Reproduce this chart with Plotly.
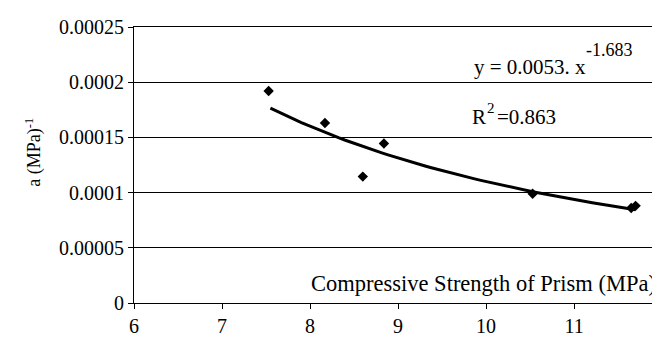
import numpy as np
import plotly.graph_objects as go

strength = [7.53, 8.17, 8.60, 8.84, 10.53, 11.65, 11.70]
a_vals = [0.000192, 0.000163, 0.0001145, 0.0001445, 0.000099, 0.0000860, 0.0000880]
fit_a = 0.0053
fit_b = -1.683
fit_range = [7.55, 11.7]
y_ticks = [0, 0.00005, 0.0001, 0.00015, 0.0002, 0.00025]
y_ticktext = ["0", "0.00005", "0.0001", "0.00015", "0.0002", "0.00025"]
x_ticks = [6, 7, 8, 9, 10, 11, 12]

FONT = "Liberation Serif"

xs = np.linspace(fit_range[0], fit_range[1], 60)
ys = fit_a * xs ** fit_b

fig = go.Figure()
fig.add_trace(go.Scatter(x=xs, y=ys, mode="lines",
                         line=dict(color="black", width=3), hoverinfo="skip"))
fig.add_trace(go.Scatter(x=strength, y=a_vals, mode="markers",
                         marker=dict(symbol="diamond", size=8, color="black")))

fig.update_layout(
    width=660, height=338,
    margin=dict(l=126, r=6, t=19, b=43, autoexpand=False),
    paper_bgcolor="white", plot_bgcolor="white",
    showlegend=False,
    font=dict(family=FONT, size=20, color="black"),
    xaxis=dict(range=[6, 12], tickvals=x_ticks, showgrid=False, zeroline=False,
               showline=True, linecolor="black", linewidth=1, mirror=True,
               ticks="outside", ticklen=5, tickcolor="black", automargin=False,
               tickfont=dict(family=FONT, size=20)),
    yaxis=dict(range=[0, 0.00025], tickvals=y_ticks, ticktext=y_ticktext,
               showgrid=True, gridcolor="black", gridwidth=1, zeroline=False,
               showline=True, linecolor="black", linewidth=1, mirror=True,
               ticks="outside", ticklen=5, tickcolor="black", automargin=False,
               tickfont=dict(family=FONT, size=20)),
)

def note(x, y, text, size, **kw):
    fig.add_annotation(x=x, y=y, text=text, showarrow=False, xanchor=kw.pop("xanchor", "left"),
                       yanchor=kw.pop("yanchor", "middle"), borderpad=0,
                       font=dict(family=FONT, size=size), **kw)

# y-axis title
note(-0.19, 0.547, "a (MPa)<sup>-1</sup>", 18, xref="paper", yref="paper",
     xanchor="center", textangle=-90)
# x-axis title inside plot area
note(1, 0.072, "Compressive Strength of Prism (MPa)", 22.5, xref="paper", yref="paper",
     xanchor="right", xshift=-5)
# trendline equation
note(9.852, 0.0002138, "y = 0.0053. x", 21)
note(11.125, 0.0002292, "-1.683", 18)
# R squared
note(9.83, 0.0001689, "R", 21)
note(10.0, 0.0001766, "2", 15)
note(10.11, 0.0001689, "=0.863", 21)

fig.write_html("out.html")
